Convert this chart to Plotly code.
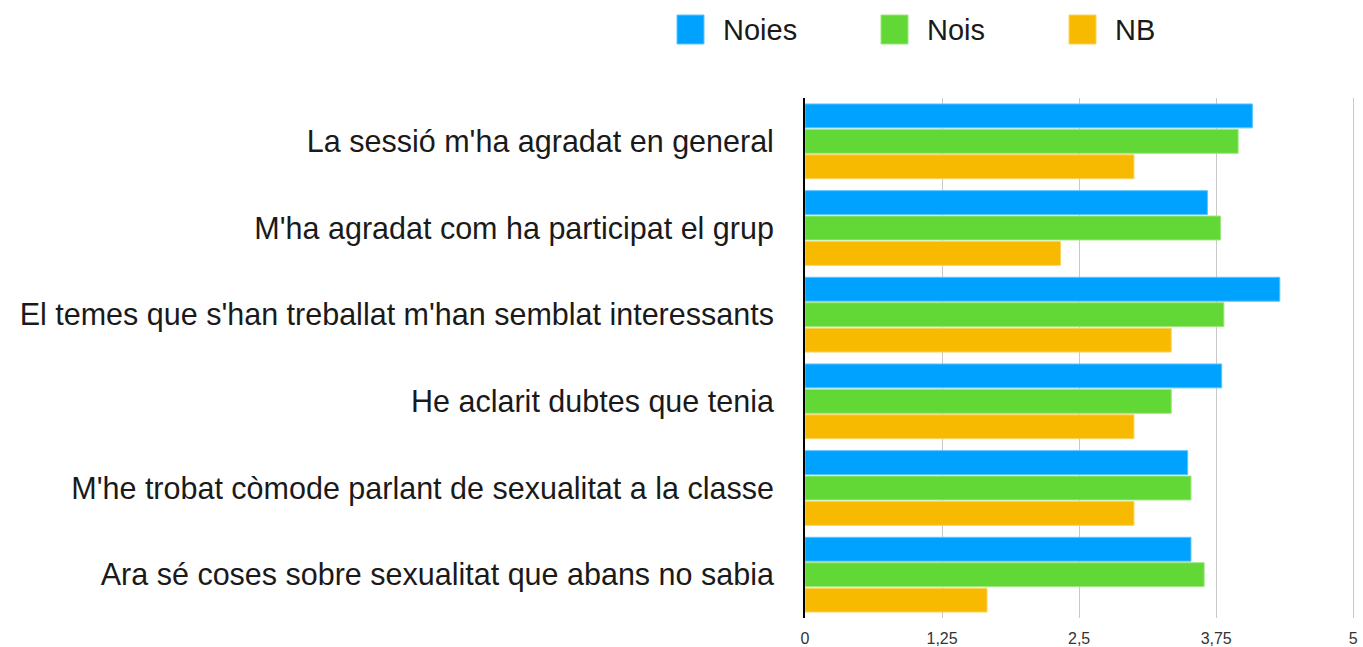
import plotly.graph_objects as go

categories = [
    "La sessió m'ha agradat en general",
    "M'ha agradat com ha participat el grup",
    "El temes que s'han treballat m'han semblat interessants",
    "He aclarit dubtes que tenia",
    "M'he trobat còmode parlant de sexualitat a la classe",
    "Ara sé coses sobre sexualitat que abans no sabia",
]
noies = [4.08, 3.67, 4.33, 3.80, 3.49, 3.52]
nois = [3.95, 3.79, 3.82, 3.34, 3.52, 3.64]
nb = [3.00, 2.33, 3.34, 3.00, 3.00, 1.66]

tick_vals = [0, 1.25, 2.5, 3.75, 5]
tick_text = ["0", "1,25", "2,5", "3,75", "5"]

series = [
    ("Noies", noies, "#00A2FF", "#5CC4FF"),
    ("Nois", nois, "#61D836", "#9BE67A"),
    ("NB", nb, "#F8BA00", "#FBD35E"),
]

W, H = 1363, 647
L, R, T, B = 805, 7, 98, 29
PW, PH = W - L - R, H - T - B

fig = go.Figure()
for name, vals, col, edge in series:
    fig.add_trace(go.Bar(
        y=categories, x=vals, name=name, orientation="h",
        marker=dict(color=col, line=dict(color=edge, width=1)),
        showlegend=False,
    ))

# custom legend (large square swatches, as in the reference)
legend_pos = [677, 881, 1069]  # left px of each swatch
shapes = []
annotations = []
def px_x(px):
    return (px - L) / PW
def px_y(py):
    return 1 + (T - py) / PH
for (name, _, col, edge), px in zip(series, legend_pos):
    shapes.append(dict(
        type="rect", xref="paper", yref="paper",
        x0=px_x(px), x1=px_x(px + 27),
        y0=px_y(44), y1=px_y(15),
        fillcolor=col, line=dict(color=edge, width=1),
    ))
    annotations.append(dict(
        xref="paper", yref="paper",
        x=px_x(px + 44), y=px_y(29.5),
        xanchor="left", yanchor="middle", showarrow=False,
        text=name, font=dict(size=29, color="#1a1a1a"),
    ))

fig.update_layout(
    width=W, height=H,
    barmode="group", bargap=0.12, bargroupgap=0.06,
    plot_bgcolor="white", paper_bgcolor="white",
    margin=dict(l=L, r=R, t=T, b=B, autoexpand=False),
    font=dict(family="Liberation Sans, Arial, sans-serif", color="#1a1a1a"),
    showlegend=False,
    shapes=shapes, annotations=annotations,
)
fig.update_xaxes(
    range=[0, 5.025], tickvals=tick_vals, ticktext=tick_text,
    showgrid=True, gridcolor="#c8c8c8", gridwidth=1.2,
    zeroline=False, showline=False, ticks="", automargin=False,
    ticklabelstandoff=9,
    tickfont=dict(size=16, color="#333333"),
)
fig.update_yaxes(
    autorange="reversed", showline=True, linecolor="black", linewidth=2,
    ticks="", ticklabelstandoff=23, automargin=False,
    tickfont=dict(size=30.5, color="#1a1a1a"),
)
fig.write_html(
    "out.html",
    config={"displayModeBar": False},
    post_script="document.body.style.margin='0';document.body.style.overflow='hidden';",
)
